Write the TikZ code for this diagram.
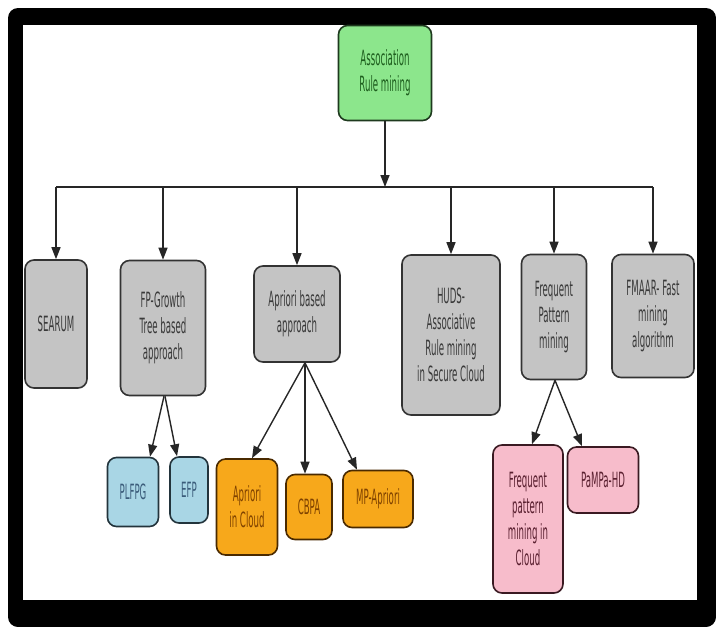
\documentclass[tikz,border=0pt]{standalone}
\usepackage{fontspec}
\setmainfont{DejaVu Sans}[FakeStretch=0.41]
\definecolor{rootfill}{HTML}{8CE68C}
\definecolor{rootline}{HTML}{1E3A1E}
\definecolor{roottext}{HTML}{1E5E1E}
\definecolor{algofill}{HTML}{C4C4C4}
\definecolor{algoline}{HTML}{333333}
\definecolor{algotext}{HTML}{3A3A3A}
\definecolor{fpfill}{HTML}{A9D6E5}
\definecolor{fpline}{HTML}{23343C}
\definecolor{fptext}{HTML}{3B5C7A}
\definecolor{aprfill}{HTML}{F7A81B}
\definecolor{aprline}{HTML}{4A2A00}
\definecolor{aprtext}{HTML}{7F4200}
\definecolor{patfill}{HTML}{F7BCCB}
\definecolor{patline}{HTML}{3A1A22}
\definecolor{pattext}{HTML}{5A2030}
\definecolor{wire}{HTML}{262626}
\usetikzlibrary{arrows.meta}
\tikzset{
  box/.style={
    draw=#1line, fill=#1fill, text=#1text, rounded corners=9pt,
    line width=1.6pt, align=center, inner sep=2pt,
    font=\fontsize{21}{26}\selectfont
  },
  box/.default=algo,
  arr/.style={-{Triangle[length=12pt,width=9pt]}, line width=1.4pt, color=wire},
  bar/.style={line width=1.6pt, color=wire},
}
\begin{document}
\begin{tikzpicture}[x=1pt, y=-1pt]
  \useasboundingbox (0,0) rectangle (716,627);
  % frame
  \fill[black, rounded corners=10pt] (8,8) rectangle (716,627);
  \fill[white] (23,25) rectangle (697,600);

  % Root
  \node[box=root, minimum width=93pt, minimum height=95pt] (root) at (385,73)
    {Association\\Rule mining};

  % Approaches
  \node[box, minimum width=62pt, minimum height=128pt] (searum) at (56,324) {SEARUM};
  \node[box, minimum width=85pt, minimum height=135pt] (fpg) at (163,328)
    {FP-Growth\\Tree based\\approach};
  \node[box, minimum width=86pt, minimum height=96pt] (apr) at (297,314)
    {Apriori based\\approach};
  \node[box, minimum width=98pt, minimum height=160pt] (huds) at (451,335)
    {HUDS-\\Associative\\Rule mining\\in Secure Cloud};
  \node[box, minimum width=65pt, minimum height=125pt] (freq) at (554,317)
    {Frequent\\Pattern\\mining};
  \node[box, minimum width=82pt, minimum height=123pt] (fmaar) at (653,316)
    {FMAAR- Fast\\mining\\algorithm};

  % FP-Growth leaves
  \node[box=fp, minimum width=51pt, minimum height=69pt] (plfpg) at (133,492) {PLFPG};
  \node[box=fp, minimum width=38pt, minimum height=66pt] (efp) at (189,490) {EFP};

  % Apriori leaves
  \node[box=apr, minimum width=61pt, minimum height=96pt] (aprc) at (247,507)
    {Apriori\\in Cloud};
  \node[box=apr, minimum width=46pt, minimum height=65pt] (cbpa) at (309,507) {CBPA};
  \node[box=apr, minimum width=70pt, minimum height=57pt] (mpa) at (378,499) {MP-Apriori};

  % Pattern leaves
  \node[box=pat, minimum width=70pt, minimum height=148pt] (fpmc) at (528,519)
    {Frequent\\pattern\\mining in\\Cloud};
  \node[box=pat, minimum width=71pt, minimum height=66pt] (pampa) at (603,480) {PaMPa-HD};

  % Bus
  \coordinate (bus) at (385,187);
  \draw[bar] (searum |- bus) -- (fmaar |- bus);
  \draw[arr] (root) -- (root |- bus);
  \foreach \n in {searum, fpg, apr, huds, freq, fmaar}
    \draw[arr] (\n |- bus) -- (\n.north);

  \draw[arr] ([xshift=1pt]fpg.south) -- ([xshift=17pt]plfpg.north);
  \draw[arr] ([xshift=2pt]fpg.south) -- ([xshift=-12pt]efp.north);
  \draw[arr] ([xshift=8pt]apr.south) -- ([xshift=5pt]aprc.north);
  \draw[arr] ([xshift=8pt]apr.south) -- ([xshift=-4pt]cbpa.north);
  \draw[arr] ([xshift=8pt]apr.south) -- ([xshift=-21pt]mpa.north);
  \draw[arr] ([xshift=1pt]freq.south) -- ([xshift=4pt]fpmc.north);
  \draw[arr] ([xshift=1pt]freq.south) -- ([xshift=-21pt]pampa.north);
\end{tikzpicture}
\end{document}
